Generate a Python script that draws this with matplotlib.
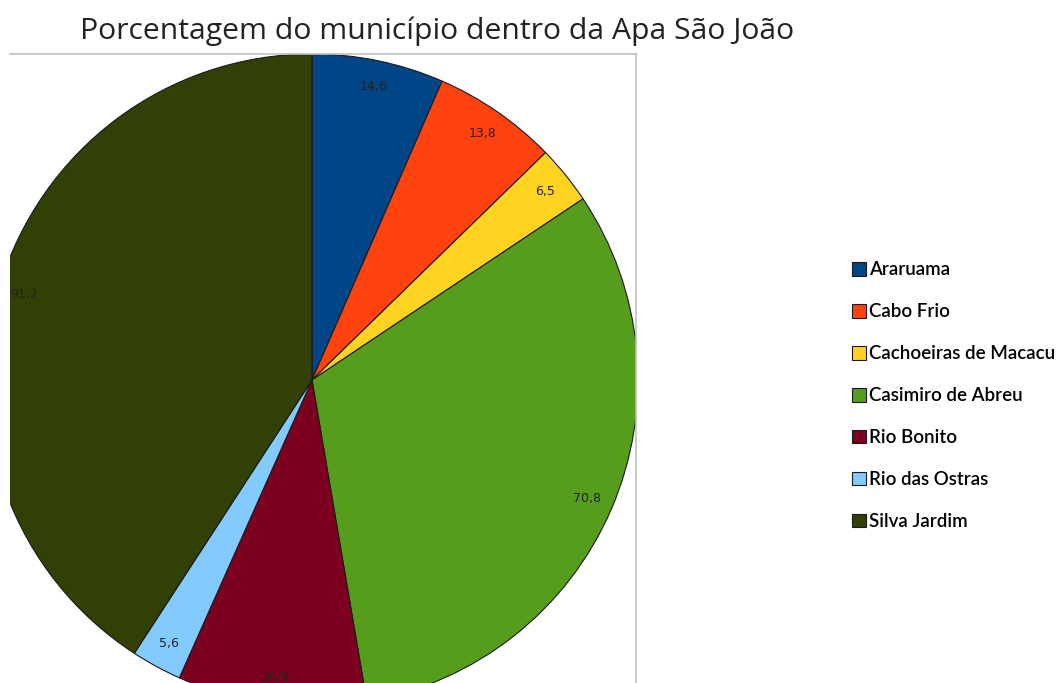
import matplotlib.pyplot as plt
from matplotlib.patches import Patch

municipios = ["Araruama", "Cabo Frio", "Cachoeiras de Macacu", "Casimiro de Abreu",
              "Rio Bonito", "Rio das Ostras", "Silva Jardim"]
valores = [14.6, 13.8, 6.5, 70.8, 20.9, 5.6, 91.2]
cores = ["#004586", "#ff420e", "#ffd320", "#579d1c", "#7e0021", "#83caff", "#314004"]
titulo = "Porcentagem do município dentro da Apa São João"

W, H = 1062, 683
fig = plt.figure(figsize=(W / 100, H / 100), dpi=100)

# axes in pixel units: x 10..636, y from bottom of figure up to the top frame line at 54
ax = fig.add_axes([10 / W, 0, (636 - 10) / W, (H - 54) / H])
total = sum(valores)
wedges, _, autotexts = ax.pie(
    valores, colors=cores, startangle=90, counterclock=False,
    radius=326, center=(312, H - 380), frame=True,
    wedgeprops=dict(edgecolor="#1a1a1a", linewidth=0.8),
    autopct=lambda p: f"{p * total / 100:.1f}".replace(".", ","),
    pctdistance=0.92, textprops=dict(fontsize=9, color="#222222", family="DejaVu Sans"))
for w in wedges:
    w.set_clip_on(True)
    w.set_clip_path(ax.patch)
for t in autotexts:
    t.set_clip_on(True)
ax.set_xlim(10, 636)
ax.set_ylim(0, H - 54)
ax.set_aspect("auto")
ax.set_xticks([])
ax.set_yticks([])
for s in ["left", "bottom"]:
    ax.spines[s].set_visible(False)
for s in ["top", "right"]:
    ax.spines[s].set_color("#c0c0c0")
    ax.spines[s].set_linewidth(1.2)

fig.text(437 / W, 1 - 31 / H, titulo, ha="center", va="center", fontsize=21.7,
         family="Open Sans", color="#222222")

handles = [Patch(facecolor=c, edgecolor="#1a1a1a", linewidth=0.8) for c in cores]
fig.legend(handles, municipios, loc="upper left", bbox_to_anchor=(843 / W, 1 - 252 / H),
           frameon=False, handlelength=0.75, handleheight=0.75,
           handletextpad=0.15, labelspacing=1.33, borderpad=0,
           prop=dict(family="Lato", size=13.5, weight="semibold"))

fig.savefig("out.png", dpi=100)
